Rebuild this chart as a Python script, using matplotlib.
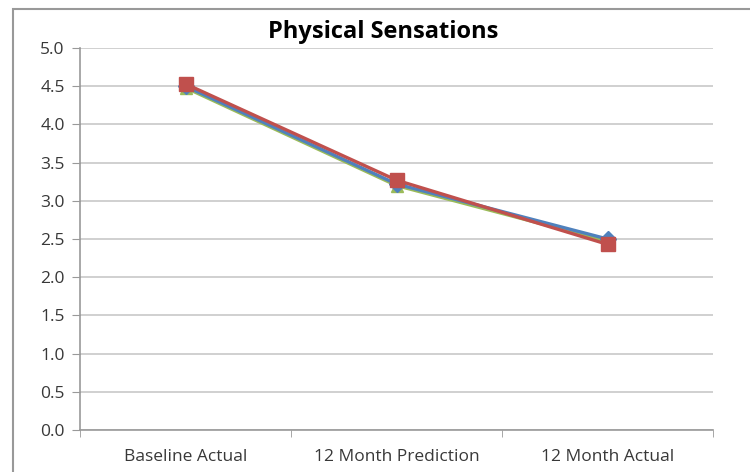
import matplotlib
matplotlib.use("Agg")
import matplotlib.pyplot as plt
from matplotlib.patches import Rectangle

categories = ["Baseline Actual", "12 Month Prediction", "12 Month Actual"]
series_blue = [4.50, 3.22, 2.50]
series_green = [4.48, 3.20, 2.47]
series_red = [4.53, 3.27, 2.43]
yticks = [0.0, 0.5, 1.0, 1.5, 2.0, 2.5, 3.0, 3.5, 4.0, 4.5, 5.0]

plt.rcParams['font.family'] = ['Open Sans', 'DejaVu Sans']

fig = plt.figure(figsize=(7.5, 4.72), dpi=100)
ax = fig.add_axes([80/750, 42/472, (713-80)/750, (430-48)/472])

x = list(range(len(categories)))
ax.plot(x, series_green, color='#9BBB59', lw=2.4, marker='^', ms=9, zorder=3)
ax.plot(x, series_blue, color='#4F81BD', lw=2.4, marker='D', ms=8, zorder=4)
ax.plot(x, series_red, color='#C0504D', lw=2.4, marker='s', ms=10, zorder=5)

ax.set_xlim(-0.5, 2.5)
ax.set_ylim(0, 5)
ax.set_yticks(yticks)
ax.set_yticklabels([f"{v:.1f}" for v in yticks])
ax.set_xticks(x)
ax.set_xticklabels(categories)
ax.set_xticks([-0.5, 0.5, 1.5, 2.5], minor=True)
ax.tick_params(axis='x', which='major', length=0, pad=14, labelsize=12.5, colors='#383838')
ax.tick_params(axis='x', which='minor', length=5, color='#999999', direction='out')
ax.tick_params(axis='y', length=6, color='#999999', labelsize=12.5, colors='#383838', pad=5)
ax.grid(axis='y', color='#C8C8C8', lw=1.2)
ax.set_axisbelow(True)
for s in ['top', 'right']:
    ax.spines[s].set_visible(False)
for s in ['left', 'bottom']:
    ax.spines[s].set_color('#999999')
    ax.spines[s].set_linewidth(1.2)

fig.text(383/750, 1 - 32/472, "Physical Sensations", ha='center', va='center',
         fontsize=17, fontweight='bold', color='#000000')

fig.patches.append(Rectangle((13/750, -0.1), 1.1, 1 - 9/472 + 0.1, transform=fig.transFigure,
                             fill=False, edgecolor='#999999', lw=1.5))

fig.savefig("out.png", dpi=100)
